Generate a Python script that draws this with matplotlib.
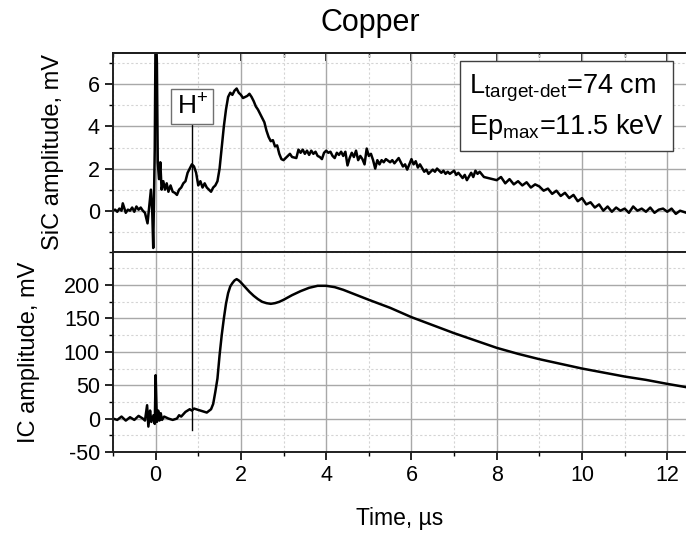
import matplotlib
matplotlib.use("Agg")
import matplotlib.pyplot as plt
from matplotlib.ticker import MultipleLocator
from matplotlib import mathtext

plt.rcParams['font.family'] = ['Liberation Sans', 'DejaVu Sans']
plt.rcParams['mathtext.fontset'] = 'custom'
plt.rcParams['mathtext.rm'] = 'Liberation Sans'
plt.rcParams['mathtext.it'] = 'Liberation Sans:italic'
plt.rcParams['axes.unicode_minus'] = False

# SiC detector trace (mV) vs time (us)
sic_t = [-1.0, -0.95, -0.9, -0.85, -0.8, -0.77, -0.7, -0.65, -0.6, -0.55, -0.5, -0.45,
         -0.4, -0.35, -0.3, -0.25, -0.19, -0.11, -0.08, -0.056, -0.02, 0.0, 0.03, 0.05,
         0.08, 0.11, 0.14, 0.18, 0.22, 0.26, 0.3, 0.35, 0.4, 0.45, 0.5, 0.55, 0.6, 0.65,
         0.7, 0.75, 0.8, 0.85, 0.9, 0.95, 1.0, 1.05, 1.1, 1.15, 1.2, 1.25, 1.3, 1.35,
         1.4, 1.45, 1.5, 1.55, 1.6, 1.65, 1.7, 1.75, 1.8, 1.85, 1.9, 1.95, 2.0, 2.05,
         2.1, 2.15, 2.2, 2.25, 2.3, 2.35, 2.4, 2.45, 2.5, 2.55, 2.6, 2.65, 2.7, 2.75,
         2.8, 2.85, 2.9, 2.95, 3.0, 3.1, 3.15, 3.2, 3.3, 3.35, 3.4, 3.45, 3.5, 3.55,
         3.6, 3.65, 3.7, 3.75, 3.8, 3.85, 3.9, 3.95, 4.0, 4.05, 4.1, 4.15, 4.2, 4.25,
         4.3, 4.35, 4.4, 4.45, 4.5, 4.55, 4.6, 4.65, 4.7, 4.75, 4.8, 4.85, 4.9, 4.95,
         5.0, 5.05, 5.1, 5.15, 5.2, 5.25, 5.3, 5.35, 5.4, 5.5, 5.55, 5.6, 5.7, 5.75,
         5.8, 5.85, 5.9, 6.0, 6.05, 6.1, 6.15, 6.2, 6.3, 6.35, 6.4, 6.5, 6.55, 6.6,
         6.7, 6.75, 6.8, 6.85, 6.9, 7.0, 7.05, 7.1, 7.2, 7.25, 7.3, 7.4, 7.45, 7.5,
         7.55, 7.6, 7.7, 7.8, 7.9, 8.0, 8.1, 8.2, 8.3, 8.4, 8.5, 8.6, 8.7, 8.8, 8.9,
         9.0, 9.1, 9.2, 9.3, 9.4, 9.5, 9.6, 9.7, 9.8, 9.9, 10.0, 10.1, 10.2, 10.3,
         10.4, 10.5, 10.6, 10.7, 10.8, 10.9, 11.0, 11.1, 11.2, 11.3, 11.4, 11.5, 11.6,
         11.7, 11.8, 11.9, 12.0, 12.1, 12.2, 12.3, 12.45]
sic_v = [0.0, 0.05, -0.05, 0.1, 0.0, 0.35, -0.1, 0.05, 0.0, 0.15, -0.05, 0.2,
         0.05, 0.15, 0.0, -0.1, -0.6, 1.0, 0.0, -1.77, 3.0, 9.0, 7.0, 2.3,
         1.5, 2.3, 1.0, 1.4, 1.0, 1.3, 0.9, 1.2, 0.9, 0.85, 0.75, 1.0, 1.1, 1.3,
         1.4, 1.8, 2.0, 2.2, 2.1, 1.8, 1.2, 1.4, 1.1, 1.3, 1.1, 1.0, 0.9, 1.1,
         1.2, 1.4, 2.0, 3.0, 4.0, 4.8, 5.4, 5.6, 5.5, 5.7, 5.8, 5.6, 5.5, 5.35,
         5.4, 5.45, 5.55, 5.4, 5.2, 4.95, 4.8, 4.6, 4.4, 4.2, 3.8, 3.5, 3.3, 3.35,
         3.05, 3.1, 2.7, 2.45, 2.4, 2.6, 2.7, 2.55, 2.5, 2.9, 2.75, 2.9, 2.7, 2.85,
         2.65, 2.85, 2.7, 2.8, 2.6, 2.55, 2.45, 2.75, 2.85, 2.75, 2.8, 2.6, 2.5, 2.75,
         2.65, 2.8, 2.6, 2.8, 2.15, 2.5, 2.75, 2.55, 2.85, 2.4, 2.6, 2.45, 2.2, 2.95,
         2.6, 2.7, 2.4, 2.0, 2.4, 2.2, 2.4, 2.3, 2.45, 2.3, 2.4, 2.25, 2.5, 2.3,
         2.1, 2.2, 1.95, 2.45, 2.2, 2.35, 2.05, 2.2, 1.85, 1.95, 1.75, 1.95, 1.85, 2.0,
         1.8, 1.9, 1.75, 1.85, 1.75, 1.9, 1.7, 1.8, 1.55, 1.7, 1.45, 1.8, 1.6, 1.9,
         1.75, 1.85, 1.6, 1.55, 1.5, 1.45, 1.6, 1.3, 1.5, 1.25, 1.4, 1.2, 1.35, 1.1, 1.25,
         1.15, 0.95, 1.05, 0.8, 0.95, 0.7, 0.85, 0.6, 0.75, 0.45, 0.6, 0.3, 0.4, 0.15,
         0.3, 0.0, 0.2, -0.05, 0.15, 0.0, 0.1, -0.1, 0.2, 0.0, 0.1, -0.05, 0.15,
         -0.1, 0.05, 0.1, -0.05, 0.1, -0.15, 0.0, -0.1]

# ionization chamber trace (mV) vs time (us)
ic_t = [-1.0, -0.9, -0.8, -0.7, -0.6, -0.5, -0.4, -0.3, -0.25, -0.2, -0.17, -0.13,
        -0.1, -0.05, -0.02, 0.0, 0.03, 0.06, 0.09, 0.12, 0.15, 0.2, 0.3, 0.4, 0.5,
        0.55, 0.6, 0.7, 0.8, 0.85, 0.9, 1.0, 1.1, 1.2, 1.3, 1.35, 1.4, 1.45, 1.5,
        1.55, 1.6, 1.65, 1.7, 1.75, 1.8, 1.85, 1.9, 1.95, 2.0, 2.1, 2.2, 2.3, 2.4,
        2.5, 2.6, 2.7, 2.8, 2.9, 3.0, 3.2, 3.4, 3.6, 3.8, 4.0, 4.2, 4.4, 4.6, 4.8,
        5.0, 5.5, 6.0, 6.5, 7.0, 7.5, 8.0, 8.5, 9.0, 9.5, 10.0, 10.5, 11.0, 11.5,
        12.0, 12.45]
ic_v = [0, -2, 3, -3, 2, -2, 4, 0, -3, 20, -12, 12,
        -5, 5, -8, 65, -5, 12, -3, 8, -2, 3, 0, -2, 0,
        5, 3, 10, 14, 12, 15, 13, 11, 9, 14, 22, 40, 60, 95,
        125, 150, 172, 188, 198, 203, 207, 209, 207, 204, 197, 190, 184, 179,
        175, 173, 172, 173, 175, 178, 185, 191, 196, 199, 199, 197, 193, 188, 183,
        178, 166, 152, 140, 128, 117, 106, 97, 89, 82, 75, 69, 63, 58,
        52, 47]

sic_ticks = [0, 2, 4, 6]
ic_ticks = [-50, 0, 50, 100, 150, 200]

h_time = 0.86
h_label = r'H$^{+}$'
title = 'Copper'

hy = r'\text{-}'
try:
    mathtext.MathTextParser('path').parse(r'$\mathrm{L}_{\mathrm{target' + hy + r'det}}$')
except Exception:
    hy = '-'
info = (r'$\mathrm{L}_{\mathrm{target' + hy + r'det}}$=74 cm' + '\n'
        r'$\mathrm{Ep}_{\mathrm{max}}$=11.5 keV')

fig = plt.figure(figsize=(6.86, 5.38), dpi=100)
ax1 = fig.add_axes([0.1647, 0.532, 0.836, 0.370])
ax2 = fig.add_axes([0.1647, 0.160, 0.836, 0.372])

for ax in (ax1, ax2):
    ax.set_xlim(-1, 12.45)
    ax.xaxis.set_major_locator(MultipleLocator(2))
    ax.xaxis.set_minor_locator(MultipleLocator(1))
    ax.grid(which='major', color='#a8a8a8', lw=1.0)
    ax.grid(which='minor', color='#d4d4d4', lw=0.8, ls=(0, (2, 2)))
    ax.set_axisbelow(True)
    ax.spines['right'].set_visible(False)
    for s in ('left', 'top', 'bottom'):
        ax.spines[s].set_linewidth(1.4)
        ax.spines[s].set_color('#202020')
    ax.tick_params(which='major', direction='out', length=6, width=1.2,
                   labelsize=15.5, right=False, top=False)
    ax.tick_params(which='minor', direction='out', length=3, width=1.0,
                   right=False, top=False)

ax1.set_ylim(-1.95, 7.5)
ax1.set_yticks(sic_ticks)
ax1.yaxis.set_minor_locator(MultipleLocator(1))
ax1.tick_params(labelbottom=False)
sec = ax1.secondary_xaxis('top')
sec.xaxis.set_major_locator(MultipleLocator(2))
sec.xaxis.set_minor_locator(MultipleLocator(1))
sec.tick_params(which='major', direction='in', length=6, width=1.2, labeltop=False)
sec.tick_params(which='minor', direction='in', length=3, width=1.0)
sec.spines['top'].set_linewidth(1.4)

ax2.set_ylim(-50, 250)
ax2.set_yticks(ic_ticks)
ax2.yaxis.set_minor_locator(MultipleLocator(25))

ax1.plot(sic_t, sic_v, color='black', lw=1.8)
ax2.plot(ic_t, ic_v, color='black', lw=1.8)

# H+ marker line through both panels
ax1.plot([h_time, h_time], [4.07, -1.95], color='black', lw=1.0, clip_on=False)
ax2.plot([h_time, h_time], [250, -17], color='black', lw=1.0)
ax1.text(h_time, 4.95, h_label, ha='center', va='center', fontsize=19,
         bbox=dict(boxstyle='square,pad=0.2', fc='white', ec='#707070', lw=1.0))

ax1.text(0.621, 0.725, info, transform=ax1.transAxes, ha='left', va='center',
         fontsize=19.5, linespacing=1.35,
         bbox=dict(boxstyle='square,pad=0.35', fc='white', ec='#404040', lw=1.0))

ax1.set_ylabel('SiC amplitude, mV', fontsize=17, labelpad=17)
ax2.set_ylabel('IC amplitude, mV', fontsize=17, labelpad=17)
ax2.set_xlabel('Time, \u00b5s', fontsize=16.5, labelpad=15)
fig.text(0.54, 0.958, title, ha='center', va='center', fontsize=22)

fig.savefig('out.png', dpi=100)
